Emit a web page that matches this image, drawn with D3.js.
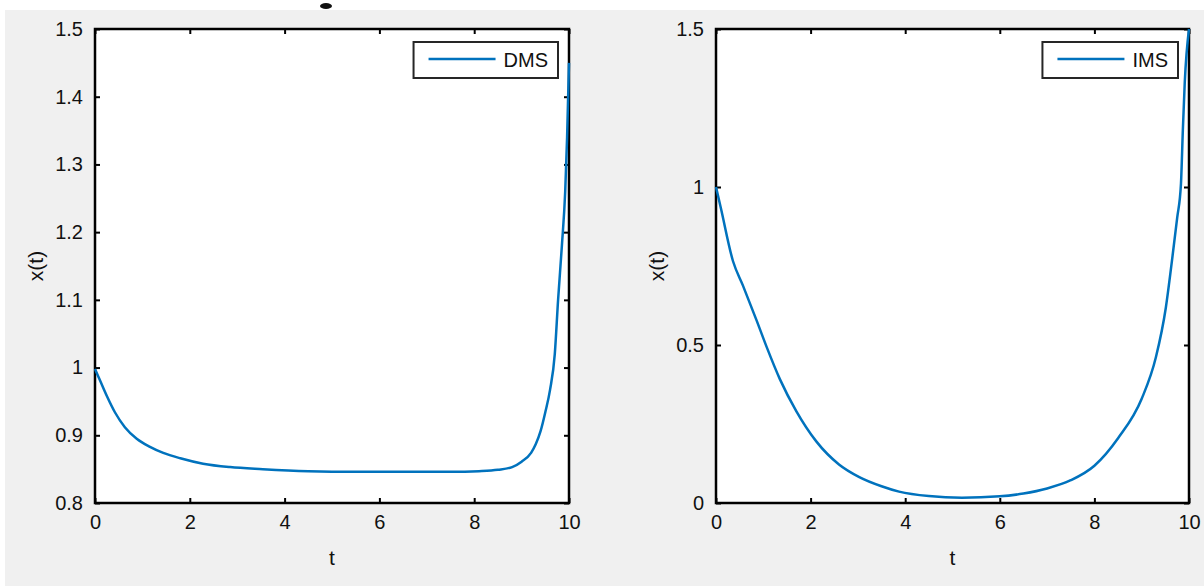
<!DOCTYPE html>
<html>
<head>
<meta charset="utf-8">
<script src="https://cdnjs.cloudflare.com/ajax/libs/d3/7.8.5/d3.min.js"></script>
<style>
  body { margin: 0; background: #ffffff; }
  svg text { font-family: "Liberation Sans", Arial, Helvetica, sans-serif; fill: #111; }
</style>
</head>
<body>
<div id="figure"></div>
<script>

// time axis shared by both panels
var tTicks = [0, 2, 4, 6, 8, 10];

// left panel : DMS
var dmsTicks = [0.8, 0.9, 1, 1.1, 1.2, 1.3, 1.4, 1.5];
var dmsT = [0, 0.1, 0.25, 0.42, 0.63, 0.88, 1.16, 1.44, 1.8, 2.28, 2.85, 3.54, 4.5, 5.5,
            6.5, 7.5, 8.1, 8.5, 8.8, 9.0, 9.2, 9.3, 9.4, 9.5, 9.6, 9.7, 9.77, 9.85, 9.92, 9.96, 10];
var dmsX = [0.998, 0.982, 0.958, 0.934, 0.912, 0.895, 0.883, 0.874, 0.866, 0.858, 0.853, 0.850, 0.847, 0.846,
            0.846, 0.846, 0.847, 0.849, 0.853, 0.861, 0.874, 0.887, 0.906, 0.934, 0.967, 1.02, 1.1, 1.18, 1.26, 1.34, 1.45];

// right panel : IMS
var imsT = [0, 0.1, 0.36, 0.57, 0.86, 1.07, 1.35, 1.7, 2.12, 2.6, 3.03, 3.5, 3.87, 4.5, 5.2,
            6.0, 6.5, 7.0, 7.5, 8.0, 8.5, 9.0, 9.3, 9.51, 9.64, 9.75, 9.83, 9.87, 9.91, 10];
var imsX = [1.0, 0.935, 0.765, 0.688, 0.577, 0.494, 0.392, 0.29, 0.195, 0.122, 0.082, 0.053, 0.036, 0.022, 0.017,
            0.021, 0.03, 0.046, 0.072, 0.118, 0.205, 0.33, 0.461, 0.618, 0.767, 0.902, 1.01, 1.18, 1.33, 1.5];
var imsTicks = [0, 0.5, 1, 1.5];

var W = 1204, H = 586;
var lineColor = "#0072bd";

var svg = d3.select("#figure")
    .append("svg")
    .attr("width", W)
    .attr("height", H);

// grey figure background (white strip along top / left edge like the screenshot)
svg.append("rect")
    .attr("x", 5)
    .attr("y", 10)
    .attr("width", W - 5)
    .attr("height", H - 10)
    .attr("fill", "#f0f0f0");

// dark speck at the top: the tail of a title cropped off the screenshot
svg.append("ellipse")
    .attr("cx", 326)
    .attr("cy", 6)
    .attr("rx", 6)
    .attr("ry", 3)
    .attr("fill", "#111");

function drawPanel(opt) {
    var x = d3.scaleLinear().domain([0, 10]).range([opt.left, opt.right]);
    var y = d3.scaleLinear().domain(opt.yDomain).range([opt.bottom, opt.top]);

    var g = svg.append("g");

    g.append("rect")
        .attr("x", opt.left)
        .attr("y", opt.top)
        .attr("width", opt.right - opt.left)
        .attr("height", opt.bottom - opt.top)
        .attr("fill", "#ffffff");

    // ticks on all four sides, pointing inward, labels only bottom / left
    var bottomAx = d3.axisBottom(x).tickValues(tTicks).tickSizeInner(-5).tickSizeOuter(0)
        .tickPadding(12).tickFormat(d3.format("d"));
    var topAx = d3.axisTop(x).tickValues(tTicks).tickSizeInner(-5).tickSizeOuter(0).tickFormat("");
    var leftAx = d3.axisLeft(y).tickValues(opt.yTicks).tickSizeInner(-5).tickSizeOuter(0)
        .tickPadding(12).tickFormat(function(d){ return String(+d.toFixed(1)); });
    var rightAx = d3.axisRight(y).tickValues(opt.yTicks).tickSizeInner(-5).tickSizeOuter(0).tickFormat("");

    g.append("g").attr("transform", "translate(0," + opt.bottom + ")").call(bottomAx);
    g.append("g").attr("transform", "translate(0," + opt.top + ")").call(topAx);
    g.append("g").attr("transform", "translate(" + opt.left + ",0)").call(leftAx);
    g.append("g").attr("transform", "translate(" + opt.right + ",0)").call(rightAx);

    g.selectAll(".tick line").attr("stroke", "#000").attr("stroke-width", 2);
    g.selectAll(".domain").remove();
    g.selectAll(".tick text")
        .attr("font-size", "20px")
        .attr("font-family", null)
        .attr("fill", "#111");

    // the box
    g.append("rect")
        .attr("x", opt.left)
        .attr("y", opt.top)
        .attr("width", opt.right - opt.left)
        .attr("height", opt.bottom - opt.top)
        .attr("fill", "none")
        .attr("stroke", "#000")
        .attr("stroke-width", 2.5);

    var pts = opt.t.map(function(t, i){ return [t, opt.v[i]]; });
    var line = d3.line()
        .x(function(d){ return x(d[0]); })
        .y(function(d){ return y(d[1]); })
        .curve(d3.curveMonotoneX);

    g.append("path")
        .datum(pts)
        .attr("d", line)
        .attr("fill", "none")
        .attr("stroke", lineColor)
        .attr("stroke-width", 2.5);

    // axis labels
    g.append("text")
        .attr("x", (opt.left + opt.right) / 2)
        .attr("y", opt.bottom + 62)
        .attr("text-anchor", "middle")
        .attr("font-size", "21px")
        .text("t");

    g.append("text")
        .attr("transform", "translate(" + (opt.left - 52) + "," + ((opt.top + opt.bottom) / 2) + ") rotate(-90)")
        .attr("text-anchor", "middle")
        .attr("font-size", "21px")
        .text("x(t)");

    // legend in the upper right corner
    var lg = g.append("g");
    var label = lg.append("text")
        .attr("y", opt.top + 38)
        .attr("font-size", "20px")
        .text(opt.name);
    var tw = label.node().getComputedTextLength();
    var boxR = opt.right - 11;
    var boxL = boxR - tw - 100;
    label.attr("x", boxL + 90);

    lg.insert("rect", "text")
        .attr("x", boxL)
        .attr("y", opt.top + 13)
        .attr("width", boxR - boxL)
        .attr("height", 36)
        .attr("fill", "#ffffff")
        .attr("stroke", "#262626")
        .attr("stroke-width", 2);

    lg.append("line")
        .attr("x1", boxL + 15)
        .attr("x2", boxL + 82)
        .attr("y1", opt.top + 30)
        .attr("y2", opt.top + 30)
        .attr("stroke", lineColor)
        .attr("stroke-width", 2.5);
}

drawPanel({
    left: 95, right: 569, top: 29, bottom: 503,
    yDomain: [0.8, 1.5], yTicks: dmsTicks,
    t: dmsT, v: dmsX, name: "DMS"
});

drawPanel({
    left: 716, right: 1189, top: 29, bottom: 503,
    yDomain: [0, 1.5], yTicks: imsTicks,
    t: imsT, v: imsX, name: "IMS"
});

</script>
</body>
</html>
